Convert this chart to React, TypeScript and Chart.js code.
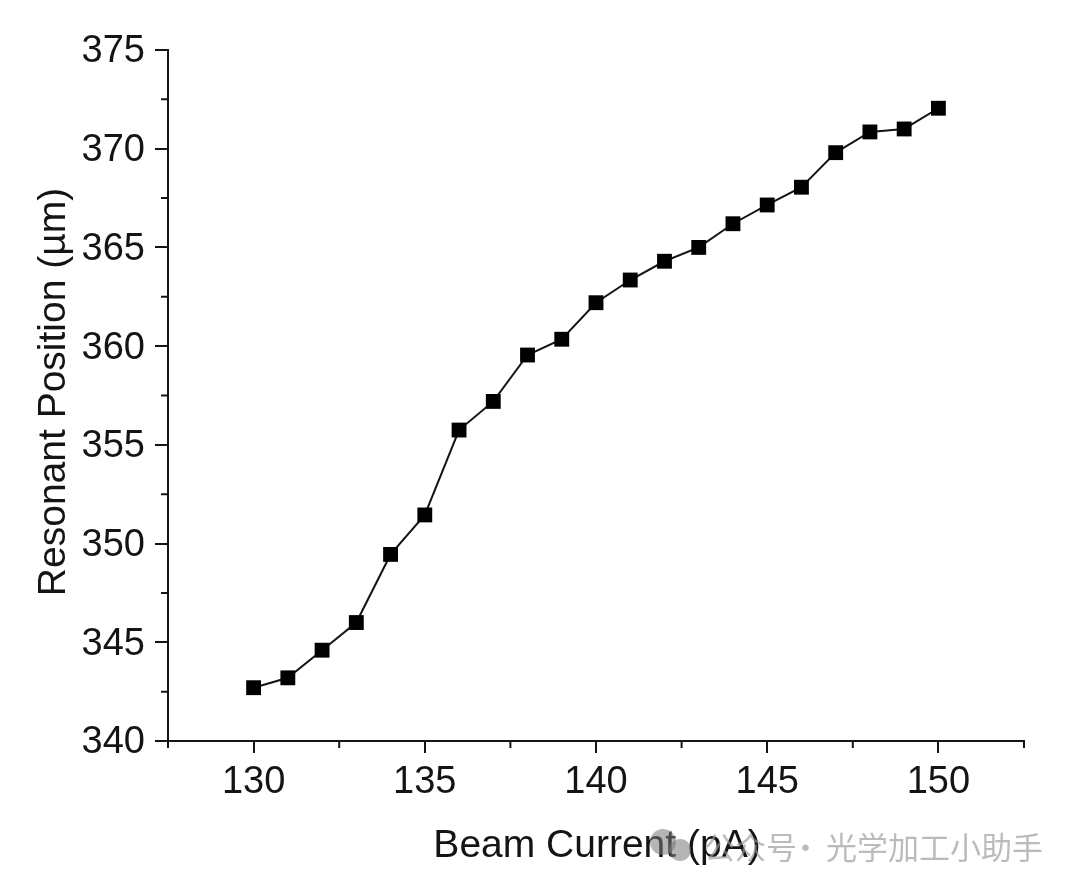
import React, { useEffect, useRef } from "react";
import { Chart, registerables } from "chart.js";
import type { Plugin } from "chart.js";

Chart.register(...registerables);

const current = [130, 131, 132, 133, 134, 135, 136, 137, 138, 139, 140, 141, 142, 143, 144, 145, 146, 147, 148, 149, 150];
const position = [342.7, 343.2, 344.6, 346.0, 349.45, 351.45, 355.75, 357.2, 359.55, 360.35, 362.2, 363.35, 364.3, 365.0, 366.2, 367.15, 368.05, 369.8, 370.85, 371.0, 372.05];
const xTicks = [130, 135, 140, 145, 150];
const xMinor = [127.5, 132.5, 137.5, 142.5, 147.5, 152.5];
const yTicks = [340, 345, 350, 355, 360, 365, 370, 375];
const yMinor = [342.5, 347.5, 352.5, 357.5, 362.5, 367.5, 372.5];
const xLabel = "Beam Current (pA)";
const yLabel = "Resonant Position (µm)";
const watermarkLeft = "公众号";
const watermarkRight = "光学加工小助手";

const FONT = '"Liberation Sans", Arial, sans-serif';
const INK = "#141414";

// minor ticks are shorter than chart.js grid ticks can do per tick, so drawn from the scales
const axisExtras: Plugin<"line"> = {
  id: "axisExtras",
  afterDraw(chart) {
    const { ctx, scales } = chart;
    const xs = scales.x;
    const ys = scales.y;
    ctx.save();
    ctx.strokeStyle = INK;
    ctx.lineWidth = 2;
    ctx.beginPath();
    xMinor.forEach((v) => {
      const px = xs.getPixelForValue(v);
      ctx.moveTo(px, xs.top);
      ctx.lineTo(px, xs.top + 7);
    });
    yMinor.forEach((v) => {
      const py = ys.getPixelForValue(v);
      ctx.moveTo(ys.right, py);
      ctx.lineTo(ys.right - 7, py);
    });
    ctx.stroke();

    ctx.fillStyle = INK;
    ctx.font = `39px ${FONT}`;
    ctx.textAlign = "center";
    ctx.textBaseline = "middle";
    ctx.fillText(xLabel, 589, 838);
    ctx.save();
    ctx.translate(46, 384);
    ctx.rotate(-Math.PI / 2);
    ctx.fillText(yLabel, 0, 0);
    ctx.restore();

    // watermark sits on top of the x title
    ctx.fillStyle = "rgba(120,120,120,0.55)";
    ctx.beginPath();
    ctx.arc(655, 834, 13, 0, Math.PI * 2);
    ctx.fill();
    ctx.beginPath();
    ctx.arc(672, 842, 11, 0, Math.PI * 2);
    ctx.fill();
    ctx.fillStyle = "rgba(150,150,150,0.65)";
    ctx.font = `31px "Noto Sans CJK SC"`;
    ctx.textAlign = "left";
    ctx.fillText(watermarkLeft, 696, 839);
    ctx.fillText("·", 782, 839);
    ctx.fillText(watermarkRight, 818, 839);
    ctx.restore();
  },
};

export default function App() {
  const canvasRef = useRef<HTMLCanvasElement | null>(null);

  useEffect(() => {
    if (!canvasRef.current) return;
    const chart = new Chart(canvasRef.current, {
      type: "line",
      data: {
        datasets: [
          {
            data: current.map((x, i) => ({ x, y: position[i] })),
            borderColor: INK,
            backgroundColor: "#000",
            borderWidth: 2,
            tension: 0,
            pointStyle: "rect",
            pointRadius: 10.5,
            pointBorderWidth: 0,
            clip: false,
          },
        ],
      },
      options: {
        animation: false,
        responsive: false,
        layout: { padding: { left: 0, right: 48, top: 42, bottom: 0 } },
        plugins: { legend: { display: false }, tooltip: { enabled: false } },
        scales: {
          x: {
            type: "linear",
            min: 127.5,
            max: 152.5,
            afterBuildTicks: (axis) => {
              axis.ticks = xTicks.map((value) => ({ value }));
            },
            afterFit: (axis) => {
              axis.height = 141;
            },
            grid: {
              drawOnChartArea: false,
              lineWidth: 2,
              tickLength: 12,
              tickColor: INK,
            },
            border: { color: INK, width: 2 },
            ticks: {
              autoSkip: false,
              maxRotation: 0,
              color: INK,
              font: { family: FONT, size: 38 },
              padding: 7,
            },
          },
          y: {
            type: "linear",
            min: 340,
            max: 375,
            afterBuildTicks: (axis) => {
              axis.ticks = yTicks.map((value) => ({ value }));
            },
            afterFit: (axis) => {
              axis.width = 160;
            },
            grid: {
              drawOnChartArea: false,
              lineWidth: 2,
              tickLength: 13,
              tickColor: INK,
            },
            border: { color: INK, width: 2 },
            ticks: {
              autoSkip: false,
              color: INK,
              font: { family: FONT, size: 38 },
              padding: 10,
              labelOffset: 2,
            },
          },
        },
      },
      plugins: [axisExtras],
    });
    return () => chart.destroy();
  }, []);

  return <canvas ref={canvasRef} width={1064} height={874} style={{ display: "block" }} />;
}
